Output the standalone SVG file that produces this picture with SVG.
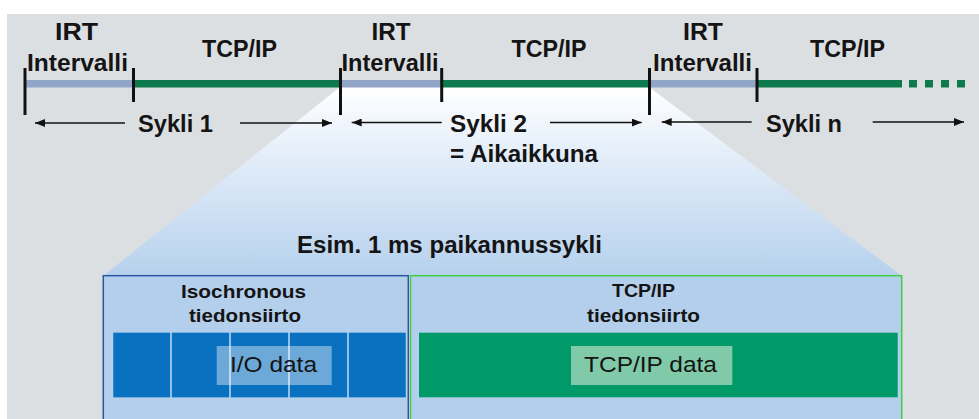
<svg xmlns="http://www.w3.org/2000/svg" width="979" height="419" viewBox="0 0 979 419">
  <defs>
    <style>
      .lbl { font-family: "Liberation Sans", Arial, sans-serif; font-weight: bold; font-size: 23px; fill: #141414; }
      .hdr { font-family: "Liberation Sans", Arial, sans-serif; font-weight: bold; font-size: 18px; fill: #141414; }
      .dat { font-family: "Liberation Sans", Arial, sans-serif; font-size: 22px; fill: #141414; }
      .tick { stroke: #111; stroke-width: 3; }
      .irt { fill: #91a5c8; }
      .tcp { fill: #0c7a4c; }
      .span { stroke: #111; stroke-width: 1.5; fill: none; }
      .cell { fill: #0a70c0; }
    </style>
    <linearGradient id="zoomFade" x1="0" y1="87" x2="0" y2="276" gradientUnits="userSpaceOnUse">
      <stop offset="0" stop-color="#ffffff"/>
      <stop offset="0.35" stop-color="#e4eef9"/>
      <stop offset="1" stop-color="#b6d1ed"/>
    </linearGradient>
    <marker id="head" viewBox="0 0 10 8" refX="10" refY="4" markerWidth="10" markerHeight="8" markerUnits="userSpaceOnUse" orient="auto">
      <path d="M0,0 L10,4 L0,8 z" fill="#111"/>
    </marker>
  </defs>

  <!-- page background -->
  <rect x="0" y="0" width="979" height="419" fill="#ffffff"/>
  <rect x="7" y="14" width="972" height="405" fill="#dcdfe2"/>

  <!-- magnified view of one cycle -->
  <polygon points="340,87 649,87 902,276 103,276" fill="url(#zoomFade)"/>

  <!-- timeline -->
  <g id="timeline">
    <rect class="irt" x="25" y="80" width="108.5" height="7.5"/>
    <rect class="tcp" x="133.5" y="80" width="207" height="7.5"/>
    <rect class="irt" x="340.5" y="80" width="101.2" height="7.5"/>
    <rect class="tcp" x="441.7" y="80" width="207.8" height="7.5"/>
    <rect class="irt" x="649.5" y="80" width="107.5" height="7.5"/>
    <rect class="tcp" x="757" y="80" width="145" height="7.5"/>
    <line x1="909" y1="83.75" x2="965" y2="83.75" stroke="#0c7a4c" stroke-width="7.5" stroke-dasharray="8 8"/>
    <line class="tick" x1="25" y1="68" x2="25" y2="115"/>
    <line class="tick" x1="133.5" y1="68" x2="133.5" y2="102"/>
    <line class="tick" x1="340.5" y1="68" x2="340.5" y2="115"/>
    <line class="tick" x1="441.7" y1="68" x2="441.7" y2="102"/>
    <line class="tick" x1="649.5" y1="68" x2="649.5" y2="115"/>
    <line class="tick" x1="757" y1="68" x2="757" y2="102"/>
  </g>

  <g id="irt-1">
    <text class="lbl" x="55" y="40" textLength="43" lengthAdjust="spacingAndGlyphs">IRT</text>
    <text class="lbl" x="27" y="71" textLength="101" lengthAdjust="spacingAndGlyphs">Intervalli</text>
  </g>
  <g id="tcp-1">
    <text class="lbl" x="202" y="56.5" textLength="75" lengthAdjust="spacingAndGlyphs">TCP/IP</text>
  </g>
  <g id="irt-2">
    <text class="lbl" x="371.5" y="40" textLength="39" lengthAdjust="spacingAndGlyphs">IRT</text>
    <text class="lbl" x="341.5" y="71" textLength="97" lengthAdjust="spacingAndGlyphs">Intervalli</text>
  </g>
  <g id="tcp-2">
    <text class="lbl" x="511.5" y="56.5" textLength="75" lengthAdjust="spacingAndGlyphs">TCP/IP</text>
  </g>
  <g id="irt-n">
    <text class="lbl" x="683" y="40" textLength="40" lengthAdjust="spacingAndGlyphs">IRT</text>
    <text class="lbl" x="653" y="71" textLength="99" lengthAdjust="spacingAndGlyphs">Intervalli</text>
  </g>
  <g id="tcp-n">
    <text class="lbl" x="810" y="56.5" textLength="75" lengthAdjust="spacingAndGlyphs">TCP/IP</text>
  </g>

  <!-- cycle spans -->
  <g id="connectors">
    <line class="span" x1="125" y1="123" x2="35" y2="123" marker-end="url(#head)"/>
    <line class="span" x1="240" y1="123" x2="332" y2="123" marker-end="url(#head)"/>
    <line class="span" x1="441.7" y1="122.5" x2="351.7" y2="122.5" marker-end="url(#head)"/>
    <line class="span" x1="550" y1="122.5" x2="641.7" y2="122.5" marker-end="url(#head)"/>
    <line class="span" x1="751.7" y1="122" x2="661.7" y2="122" marker-end="url(#head)"/>
    <line class="span" x1="872.7" y1="122" x2="964" y2="122" marker-end="url(#head)"/>
  </g>

  <g id="cycle-1">
    <text class="lbl" x="138" y="132" textLength="75" lengthAdjust="spacingAndGlyphs">Sykli 1</text>
  </g>
  <g id="cycle-2">
    <text class="lbl" x="450" y="132" textLength="77" lengthAdjust="spacingAndGlyphs">Sykli 2</text>
    <text class="lbl" x="450" y="161.5" textLength="148" lengthAdjust="spacingAndGlyphs">= Aikaikkuna</text>
  </g>
  <g id="cycle-n">
    <text class="lbl" x="766" y="132" textLength="76" lengthAdjust="spacingAndGlyphs">Sykli n</text>
  </g>

  <g id="window-title">
    <text class="lbl" x="297" y="253" textLength="305" lengthAdjust="spacingAndGlyphs">Esim. 1 ms paikannussykli</text>
  </g>

  <!-- isochronous part of the cycle -->
  <g id="isochronous">
    <rect x="103.3" y="275.7" width="305" height="150" fill="#b4cfec" stroke="#2a55a2" stroke-width="1.5"/>
    <text class="hdr" x="181" y="298" textLength="125" lengthAdjust="spacingAndGlyphs">Isochronous</text>
    <text class="hdr" x="189" y="321.5" textLength="112" lengthAdjust="spacingAndGlyphs">tiedonsiirto</text>
    <rect x="113.3" y="332.7" width="292.4" height="64.6" fill="#93c0e8"/>
    <rect class="cell" x="113.3" y="332.7" width="56.7" height="64.6"/>
    <rect class="cell" x="172" y="332.7" width="57" height="64.6"/>
    <rect class="cell" x="231" y="332.7" width="57" height="64.6"/>
    <rect class="cell" x="290" y="332.7" width="57" height="64.6"/>
    <rect class="cell" x="349" y="332.7" width="56.7" height="64.6"/>
    <rect x="216.7" y="346" width="115" height="39" fill="#ffffff" fill-opacity="0.4"/>
    <text class="dat" x="230" y="371.5" textLength="87" lengthAdjust="spacingAndGlyphs">I/O data</text>
  </g>

  <!-- TCP/IP part of the cycle -->
  <g id="tcpip">
    <rect x="410.5" y="275.7" width="491.2" height="150" fill="#b4cfec" stroke="#44cc44" stroke-width="1.5"/>
    <text class="hdr" x="612" y="296.5" textLength="63" lengthAdjust="spacingAndGlyphs">TCP/IP</text>
    <text class="hdr" x="587" y="321.5" textLength="113" lengthAdjust="spacingAndGlyphs">tiedonsiirto</text>
    <rect x="419" y="332.7" width="478.7" height="64.6" fill="#009a68"/>
    <rect x="571" y="346" width="161.3" height="39" fill="#80caa9"/>
    <text class="dat" x="584" y="371.5" textLength="133" lengthAdjust="spacingAndGlyphs">TCP/IP data</text>
  </g>
</svg>
